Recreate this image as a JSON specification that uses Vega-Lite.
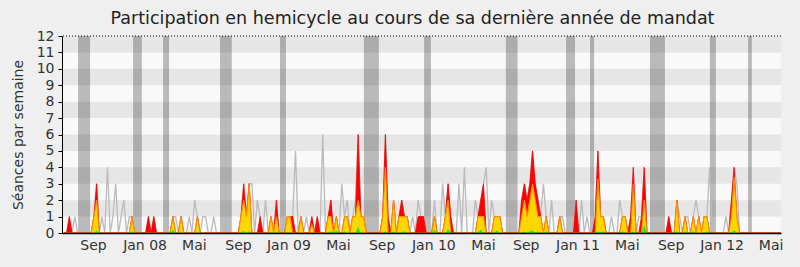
{
  "$schema": "https://vega.github.io/schema/vega-lite/v6.json",
  "width": 719,
  "height": 197,
  "autosize": {"type": "none"},
  "padding": {"left": 62, "top": 36, "right": 19, "bottom": 34},
  "background": "#efefef",
  "title": {"text": "Participation en hemicycle au cours de sa dernière année de mandat", "fontSize": 17.5, "font": "DejaVu Sans", "fontWeight": "normal", "color": "#222222", "anchor": "middle", "offset": 2, "dx": -9},
  "config": {"view": {"stroke": null, "fill": "#f9f9f9"}, "font": "DejaVu Sans"},
  "datasets": {
    "bandes": [{"de": 1, "a": 2}, {"de": 3, "a": 4}, {"de": 5, "a": 6}, {"de": 7, "a": 8}, {"de": 9, "a": 10}, {"de": 11, "a": 12}],
    "vacances": [
      {"debut": 5.2, "fin": 9.6}, {"debut": 25.4, "fin": 28.6}, {"debut": 36.4, "fin": 38.6}, {"debut": 57.3, "fin": 61.6},
      {"debut": 79.3, "fin": 81.5}, {"debut": 110.1, "fin": 115.6}, {"debut": 132.2, "fin": 134.7}, {"debut": 162.2, "fin": 166.5},
      {"debut": 184.3, "fin": 187.6}, {"debut": 193.1, "fin": 194.6}, {"debut": 215.1, "fin": 220.6}, {"debut": 237.1, "fin": 239.3},
      {"debut": 251.1, "fin": 252.5}
    ],
    "semaines": [
      {"sem":0,"tot":0,"pres":0,"part":0,"int":0},{"sem":1,"tot":0,"pres":0,"part":0,"int":0},{"sem":2,"tot":1,"pres":1,"part":0,"int":0},{"sem":3,"tot":0,"pres":0,"part":0,"int":0},
      {"sem":4,"tot":1,"pres":0,"part":0,"int":0},{"sem":5,"tot":0,"pres":0,"part":0,"int":0},{"sem":6,"tot":0,"pres":0,"part":0,"int":0},{"sem":7,"tot":0,"pres":0,"part":0,"int":0},
      {"sem":8,"tot":0,"pres":0,"part":0,"int":0},{"sem":9,"tot":0,"pres":0,"part":0,"int":0},{"sem":10,"tot":0,"pres":0,"part":0,"int":0},{"sem":11,"tot":1,"pres":1,"part":1,"int":0},
      {"sem":12,"tot":3,"pres":3,"part":2,"int":0.15},{"sem":13,"tot":0,"pres":0,"part":0,"int":0},{"sem":14,"tot":1,"pres":0,"part":0,"int":0},{"sem":15,"tot":0,"pres":0,"part":0,"int":0},
      {"sem":16,"tot":4,"pres":0,"part":0,"int":0},{"sem":17,"tot":0,"pres":0,"part":0,"int":0},{"sem":18,"tot":1,"pres":0,"part":0,"int":0},{"sem":19,"tot":3,"pres":0,"part":0,"int":0},
      {"sem":20,"tot":0,"pres":0,"part":0,"int":0},{"sem":21,"tot":1,"pres":0,"part":0,"int":0},{"sem":22,"tot":2,"pres":0,"part":0,"int":0},{"sem":23,"tot":0,"pres":0,"part":0,"int":0},
      {"sem":24,"tot":1,"pres":0,"part":0,"int":0},{"sem":25,"tot":1,"pres":1,"part":1,"int":0.1},{"sem":26,"tot":0,"pres":0,"part":0,"int":0},{"sem":27,"tot":0,"pres":0,"part":0,"int":0},
      {"sem":28,"tot":0,"pres":0,"part":0,"int":0},{"sem":29,"tot":0,"pres":0,"part":0,"int":0},{"sem":30,"tot":0,"pres":0,"part":0,"int":0},{"sem":31,"tot":1,"pres":1,"part":0,"int":0},
      {"sem":32,"tot":0,"pres":0,"part":0,"int":0},{"sem":33,"tot":1,"pres":1,"part":0,"int":0},{"sem":34,"tot":0,"pres":0,"part":0,"int":0},{"sem":35,"tot":0,"pres":0,"part":0,"int":0},
      {"sem":36,"tot":0,"pres":0,"part":0,"int":0},{"sem":37,"tot":0,"pres":0,"part":0,"int":0},{"sem":38,"tot":0,"pres":0,"part":0,"int":0},{"sem":39,"tot":0,"pres":0,"part":0,"int":0},
      {"sem":40,"tot":1,"pres":1,"part":1,"int":0.2},{"sem":41,"tot":1,"pres":0,"part":0,"int":0},{"sem":42,"tot":0,"pres":0,"part":0,"int":0},{"sem":43,"tot":1,"pres":1,"part":1,"int":0.05},
      {"sem":44,"tot":0,"pres":0,"part":0,"int":0},{"sem":45,"tot":0,"pres":0,"part":0,"int":0},{"sem":46,"tot":1,"pres":0,"part":0,"int":0},{"sem":47,"tot":0,"pres":0,"part":0,"int":0},
      {"sem":48,"tot":2,"pres":0,"part":0,"int":0},{"sem":49,"tot":1,"pres":1,"part":1,"int":0.05},{"sem":50,"tot":0,"pres":0,"part":0,"int":0},{"sem":51,"tot":1,"pres":0,"part":0,"int":0},
      {"sem":52,"tot":1,"pres":0,"part":0,"int":0},{"sem":53,"tot":0,"pres":0,"part":0,"int":0},{"sem":54,"tot":0,"pres":0,"part":0,"int":0},{"sem":55,"tot":1,"pres":0,"part":0,"int":0},
      {"sem":56,"tot":0,"pres":0,"part":0,"int":0},{"sem":57,"tot":0,"pres":0,"part":0,"int":0},{"sem":58,"tot":0,"pres":0,"part":0,"int":0},{"sem":59,"tot":0,"pres":0,"part":0,"int":0},
      {"sem":60,"tot":0,"pres":0,"part":0,"int":0},{"sem":61,"tot":0,"pres":0,"part":0,"int":0},{"sem":62,"tot":0,"pres":0,"part":0,"int":0},{"sem":63,"tot":0,"pres":0,"part":0,"int":0},
      {"sem":64,"tot":0,"pres":0,"part":0,"int":0},{"sem":65,"tot":1,"pres":1,"part":1,"int":0.05},{"sem":66,"tot":3,"pres":3,"part":2,"int":0.1},{"sem":67,"tot":1,"pres":1,"part":1,"int":0},
      {"sem":68,"tot":3,"pres":3,"part":3,"int":0.1},{"sem":69,"tot":3,"pres":0,"part":0,"int":0},{"sem":70,"tot":0,"pres":0,"part":0,"int":0},{"sem":71,"tot":2,"pres":0,"part":0,"int":0},
      {"sem":72,"tot":1,"pres":1,"part":0,"int":0},{"sem":73,"tot":0,"pres":0,"part":0,"int":0},{"sem":74,"tot":2,"pres":0,"part":0,"int":0},{"sem":75,"tot":0,"pres":0,"part":0,"int":0},
      {"sem":76,"tot":1,"pres":1,"part":1,"int":0.05},{"sem":77,"tot":0,"pres":0,"part":0,"int":0},{"sem":78,"tot":2,"pres":2,"part":1,"int":0.05},{"sem":79,"tot":0,"pres":0,"part":0,"int":0},
      {"sem":80,"tot":0,"pres":0,"part":0,"int":0},{"sem":81,"tot":0,"pres":0,"part":0,"int":0},{"sem":82,"tot":1,"pres":1,"part":1,"int":0.05},{"sem":83,"tot":1,"pres":1,"part":1,"int":0},
      {"sem":84,"tot":1,"pres":1,"part":0,"int":0},{"sem":85,"tot":5,"pres":0,"part":0,"int":0},{"sem":86,"tot":0,"pres":0,"part":0,"int":0},{"sem":87,"tot":1,"pres":1,"part":1,"int":0},
      {"sem":88,"tot":0,"pres":0,"part":0,"int":0},{"sem":89,"tot":1,"pres":0,"part":0,"int":0},{"sem":90,"tot":0,"pres":0,"part":0,"int":0},{"sem":91,"tot":1,"pres":1,"part":0.5,"int":0},
      {"sem":92,"tot":0,"pres":0,"part":0,"int":0},{"sem":93,"tot":1,"pres":1,"part":0,"int":0},{"sem":94,"tot":0,"pres":0,"part":0,"int":0},{"sem":95,"tot":6,"pres":0,"part":0,"int":0},
      {"sem":96,"tot":0,"pres":0,"part":0,"int":0},{"sem":97,"tot":1,"pres":1,"part":1,"int":0},{"sem":98,"tot":2,"pres":2,"part":1,"int":0.1},{"sem":99,"tot":0,"pres":0,"part":0,"int":0},
      {"sem":100,"tot":1,"pres":1,"part":1,"int":0.15},{"sem":101,"tot":0,"pres":0,"part":0,"int":0},{"sem":102,"tot":3,"pres":0,"part":0,"int":0},{"sem":103,"tot":1,"pres":1,"part":1,"int":0.1},
      {"sem":104,"tot":2,"pres":1,"part":1,"int":0},{"sem":105,"tot":0,"pres":0,"part":0,"int":0},{"sem":106,"tot":1,"pres":1,"part":1,"int":0},{"sem":107,"tot":2,"pres":1,"part":1,"int":0},
      {"sem":108,"tot":6,"pres":6,"part":2,"int":0.4},{"sem":109,"tot":1,"pres":1,"part":1,"int":0},{"sem":110,"tot":1,"pres":1,"part":1,"int":0},{"sem":111,"tot":0,"pres":0,"part":0,"int":0},
      {"sem":112,"tot":0,"pres":0,"part":0,"int":0},{"sem":113,"tot":0,"pres":0,"part":0,"int":0},{"sem":114,"tot":0,"pres":0,"part":0,"int":0},{"sem":115,"tot":0,"pres":0,"part":0,"int":0},
      {"sem":116,"tot":0,"pres":0,"part":0,"int":0},{"sem":117,"tot":1,"pres":1,"part":1,"int":0},{"sem":118,"tot":6,"pres":6,"part":4,"int":0.1},{"sem":119,"tot":1,"pres":1,"part":0,"int":0},
      {"sem":120,"tot":0,"pres":0,"part":0,"int":0},{"sem":121,"tot":2,"pres":2,"part":2,"int":0.1},{"sem":122,"tot":0,"pres":0,"part":0,"int":0},{"sem":123,"tot":1,"pres":1,"part":1,"int":0},
      {"sem":124,"tot":2,"pres":2,"part":1,"int":0.05},{"sem":125,"tot":1,"pres":1,"part":1,"int":0.1},{"sem":126,"tot":1,"pres":1,"part":1,"int":0},{"sem":127,"tot":0,"pres":0,"part":0,"int":0},
      {"sem":128,"tot":1,"pres":0,"part":0,"int":0},{"sem":129,"tot":0,"pres":0,"part":0,"int":0},{"sem":130,"tot":2,"pres":1,"part":0,"int":0},{"sem":131,"tot":1,"pres":1,"part":0,"int":0},
      {"sem":132,"tot":1,"pres":1,"part":0,"int":0},{"sem":133,"tot":0,"pres":0,"part":0,"int":0},{"sem":134,"tot":0,"pres":0,"part":0,"int":0},{"sem":135,"tot":0,"pres":0,"part":0,"int":0},
      {"sem":136,"tot":2,"pres":1,"part":1,"int":0.2},{"sem":137,"tot":0,"pres":0,"part":0,"int":0},{"sem":138,"tot":0,"pres":0,"part":0,"int":0},{"sem":139,"tot":3,"pres":0,"part":0,"int":0},
      {"sem":140,"tot":1,"pres":1,"part":1,"int":0},{"sem":141,"tot":3,"pres":3,"part":2,"int":0.25},{"sem":142,"tot":1,"pres":1,"part":0,"int":0},{"sem":143,"tot":0,"pres":0,"part":0,"int":0},
      {"sem":144,"tot":0,"pres":0,"part":0,"int":0},{"sem":145,"tot":3,"pres":0,"part":0,"int":0},{"sem":146,"tot":0,"pres":0,"part":0,"int":0},{"sem":147,"tot":4,"pres":0,"part":0,"int":0},
      {"sem":148,"tot":0,"pres":0,"part":0,"int":0},{"sem":149,"tot":0,"pres":0,"part":0,"int":0},{"sem":150,"tot":0,"pres":0,"part":0,"int":0},{"sem":151,"tot":2,"pres":0,"part":0,"int":0},
      {"sem":152,"tot":1,"pres":1,"part":1,"int":0.05},{"sem":153,"tot":2,"pres":2,"part":1,"int":0.2},{"sem":154,"tot":3,"pres":3,"part":1,"int":0.05},{"sem":155,"tot":4,"pres":0,"part":0,"int":0},
      {"sem":156,"tot":0,"pres":0,"part":0,"int":0},{"sem":157,"tot":2,"pres":0,"part":0,"int":0},{"sem":158,"tot":1,"pres":1,"part":1,"int":0.05},{"sem":159,"tot":1,"pres":1,"part":1,"int":0.15},
      {"sem":160,"tot":1,"pres":1,"part":1,"int":0},{"sem":161,"tot":0,"pres":0,"part":0,"int":0},{"sem":162,"tot":0,"pres":0,"part":0,"int":0},{"sem":163,"tot":0,"pres":0,"part":0,"int":0},
      {"sem":164,"tot":0,"pres":0,"part":0,"int":0},{"sem":165,"tot":0,"pres":0,"part":0,"int":0},{"sem":166,"tot":0,"pres":0,"part":0,"int":0},{"sem":167,"tot":0,"pres":0,"part":0,"int":0},
      {"sem":168,"tot":2,"pres":2,"part":1,"int":0},{"sem":169,"tot":3,"pres":3,"part":2,"int":0.1},{"sem":170,"tot":2,"pres":2,"part":1,"int":0},{"sem":171,"tot":3,"pres":3,"part":2,"int":0.1},
      {"sem":172,"tot":5,"pres":5,"part":3,"int":0.15},{"sem":173,"tot":3,"pres":3,"part":2,"int":0},{"sem":174,"tot":2,"pres":2,"part":1,"int":0.1},{"sem":175,"tot":1,"pres":1,"part":1,"int":0},
      {"sem":176,"tot":3,"pres":0,"part":0,"int":0},{"sem":177,"tot":1,"pres":1,"part":1,"int":0.1},{"sem":178,"tot":0,"pres":0,"part":0,"int":0},{"sem":179,"tot":2,"pres":0,"part":0,"int":0},
      {"sem":180,"tot":0,"pres":0,"part":0,"int":0},{"sem":181,"tot":0,"pres":0,"part":0,"int":0},{"sem":182,"tot":1,"pres":1,"part":1,"int":0},{"sem":183,"tot":1,"pres":0,"part":0,"int":0},
      {"sem":184,"tot":0,"pres":0,"part":0,"int":0},{"sem":185,"tot":0,"pres":0,"part":0,"int":0},{"sem":186,"tot":0,"pres":0,"part":0,"int":0},{"sem":187,"tot":0,"pres":0,"part":0,"int":0},
      {"sem":188,"tot":2,"pres":2,"part":0,"int":0},{"sem":189,"tot":0,"pres":0,"part":0,"int":0},{"sem":190,"tot":2,"pres":0,"part":0,"int":0},{"sem":191,"tot":0,"pres":0,"part":0,"int":0},
      {"sem":192,"tot":1,"pres":0,"part":0,"int":0},{"sem":193,"tot":0,"pres":0,"part":0,"int":0},{"sem":194,"tot":0,"pres":0,"part":0,"int":0},{"sem":195,"tot":1,"pres":1,"part":0,"int":0},
      {"sem":196,"tot":5,"pres":5,"part":3.3,"int":0.1},{"sem":197,"tot":1,"pres":1,"part":1,"int":0.05},{"sem":198,"tot":1,"pres":1,"part":1,"int":0.1},{"sem":199,"tot":0,"pres":0,"part":0,"int":0},
      {"sem":200,"tot":0,"pres":0,"part":0,"int":0},{"sem":201,"tot":1,"pres":0,"part":0,"int":0},{"sem":202,"tot":0,"pres":0,"part":0,"int":0},{"sem":203,"tot":0,"pres":0,"part":0,"int":0},
      {"sem":204,"tot":2,"pres":0,"part":0,"int":0},{"sem":205,"tot":1,"pres":1,"part":1,"int":0.1},{"sem":206,"tot":1,"pres":1,"part":1,"int":0},{"sem":207,"tot":0,"pres":0,"part":0,"int":0},
      {"sem":208,"tot":1,"pres":1,"part":0,"int":0},{"sem":209,"tot":4,"pres":4,"part":3,"int":0.1},{"sem":210,"tot":0,"pres":0,"part":0,"int":0},{"sem":211,"tot":1,"pres":0,"part":0,"int":0},
      {"sem":212,"tot":1,"pres":1,"part":0,"int":0},{"sem":213,"tot":4,"pres":4,"part":2,"int":0.5},{"sem":214,"tot":0,"pres":0,"part":0,"int":0},{"sem":215,"tot":0,"pres":0,"part":0,"int":0},
      {"sem":216,"tot":0,"pres":0,"part":0,"int":0},{"sem":217,"tot":0,"pres":0,"part":0,"int":0},{"sem":218,"tot":0,"pres":0,"part":0,"int":0},{"sem":219,"tot":0,"pres":0,"part":0,"int":0},
      {"sem":220,"tot":0,"pres":0,"part":0,"int":0},{"sem":221,"tot":0,"pres":0,"part":0,"int":0},{"sem":222,"tot":1,"pres":1,"part":0,"int":0},{"sem":223,"tot":0,"pres":0,"part":0,"int":0},
      {"sem":224,"tot":0,"pres":0,"part":0,"int":0},{"sem":225,"tot":2,"pres":2,"part":2,"int":0.1},{"sem":226,"tot":1,"pres":0,"part":0,"int":0},{"sem":227,"tot":0,"pres":0,"part":0,"int":0},
      {"sem":228,"tot":1,"pres":1,"part":1,"int":0.1},{"sem":229,"tot":1,"pres":0,"part":0,"int":0},{"sem":230,"tot":0,"pres":0,"part":0,"int":0},{"sem":231,"tot":1,"pres":1,"part":1,"int":0.1},
      {"sem":232,"tot":2,"pres":0,"part":0,"int":0},{"sem":233,"tot":1,"pres":1,"part":1,"int":0},{"sem":234,"tot":0,"pres":0,"part":0,"int":0},{"sem":235,"tot":1,"pres":1,"part":1,"int":0},
      {"sem":236,"tot":1,"pres":1,"part":1,"int":0.1},{"sem":237,"tot":4,"pres":0,"part":0,"int":0},{"sem":238,"tot":0,"pres":0,"part":0,"int":0},{"sem":239,"tot":0,"pres":0,"part":0,"int":0},
      {"sem":240,"tot":0,"pres":0,"part":0,"int":0},{"sem":241,"tot":0,"pres":0,"part":0,"int":0},{"sem":242,"tot":0,"pres":0,"part":0,"int":0},{"sem":243,"tot":1,"pres":0,"part":0,"int":0},
      {"sem":244,"tot":0,"pres":0,"part":0,"int":0},{"sem":245,"tot":2,"pres":2,"part":1,"int":0},{"sem":246,"tot":4,"pres":4,"part":3.4,"int":0.2},{"sem":247,"tot":3,"pres":1,"part":1,"int":0},
      {"sem":248,"tot":0,"pres":0,"part":0,"int":0},{"sem":249,"tot":0,"pres":0,"part":0,"int":0},{"sem":250,"tot":0,"pres":0,"part":0,"int":0},{"sem":251,"tot":0,"pres":0,"part":0,"int":0},
      {"sem":252,"tot":0,"pres":0,"part":0,"int":0},{"sem":253,"tot":0,"pres":0,"part":0,"int":0},{"sem":254,"tot":0,"pres":0,"part":0,"int":0},{"sem":255,"tot":0,"pres":0,"part":0,"int":0},
      {"sem":256,"tot":0,"pres":0,"part":0,"int":0},{"sem":257,"tot":0,"pres":0,"part":0,"int":0},{"sem":258,"tot":0,"pres":0,"part":0,"int":0},{"sem":259,"tot":0,"pres":0,"part":0,"int":0},
      {"sem":260,"tot":0,"pres":0,"part":0,"int":0},{"sem":261,"tot":0,"pres":0,"part":0,"int":0},{"sem":262,"tot":0,"pres":0,"part":0,"int":0},{"sem":263,"tot":0,"pres":0,"part":0,"int":0}
    ]
  },
  "encoding": {
    "y": {"type": "quantitative", "title": "Séances par semaine", "scale": {"domain": [0, 12], "nice": false, "zero": true},
          "axis": {"values": [0,1,2,3,4,5,6,7,8,9,10,11,12], "grid": false, "tickSize": 4, "tickColor": "#000000", "domainColor": "#000000", "labelFontSize": 14, "labelLineHeight": 12, "labelColor": "#333333", "labelPadding": 4, "labelOverlap": false, "labelSeparation": 0, "labelBound": false, "labelFlush": false, "titleFontSize": 14, "titleFontWeight": "normal", "titleColor": "#333333", "titlePadding": 11, "labelFont": "DejaVu Sans", "titleFont": "DejaVu Sans", "zindex": 1}},
    "x": {"type": "quantitative", "title": null, "scale": {"domain": [-0.7, 263.2], "nice": false, "zero": false},
          "axis": {"values": [10.7,29.6,47.7,63.9,82.4,100.6,116.6,135.6,153.8,169.5,188.5,206.6,222.7,241.4,259.4],
                   "labelExpr": "['Sep','Jan 08','Mai','Sep','Jan 09','Mai','Sep','Jan 10','Mai','Sep','Jan 11','Mai','Sep','Jan 12','Mai'][indexof([10.7,29.6,47.7,63.9,82.4,100.6,116.6,135.6,153.8,169.5,188.5,206.6,222.7,241.4,259.4], datum.value)]",
                   "grid": false, "ticks": false, "tickSize": 0, "domainColor": "#000000", "domainWidth": 1.5, "labelFontSize": 14, "labelColor": "#333333", "labelPadding": 5, "labelFlush": false, "labelOverlap": false, "labelBound": false, "labelFont": "DejaVu Sans", "zindex": 1}}
  },
  "layer": [
    {
      "data": {"name": "bandes"},
      "mark": {"type": "rect", "color": "#e6e6e6"},
      "encoding": {
        "x": null,
        "y": {"field": "de"},
        "y2": {"field": "a"}
      }
    },
    {
      "data": {"name": "vacances"},
      "mark": {"type": "rect", "color": "#000000", "opacity": 0.25},
      "encoding": {
        "y": null,
        "x": {"field": "debut"},
        "x2": {"field": "fin"}
      }
    },
    {
      "data": {"name": "semaines"},
      "mark": {"type": "line", "color": "#bbbbbb", "strokeWidth": 1.3},
      "encoding": {
        "x": {"field": "sem"},
        "y": {"field": "tot"}
      }
    },
    {
      "data": {"name": "semaines"},
      "mark": {"type": "area", "color": "#ff0000", "stroke": "#ff0000", "strokeWidth": 0.8},
      "encoding": {
        "x": {"field": "sem"},
        "y": {"field": "pres"}
      }
    },
    {
      "data": {"name": "semaines"},
      "mark": {"type": "area", "color": "#ffd700", "stroke": "#ff8c00", "strokeWidth": 1.1},
      "encoding": {
        "x": {"field": "sem"},
        "y": {"field": "part"}
      }
    },
    {
      "data": {"name": "semaines"},
      "mark": {"type": "area", "color": "#22ee22"},
      "encoding": {
        "x": {"field": "sem"},
        "y": {"field": "int"}
      }
    },
    {
      "data": {"values": [{"max": 12}]},
      "mark": {"type": "rule", "color": "#000000", "strokeDash": [1, 2], "strokeWidth": 1},
      "encoding": {
        "x": null,
        "y": {"field": "max"}
      }
    }
  ]
}
